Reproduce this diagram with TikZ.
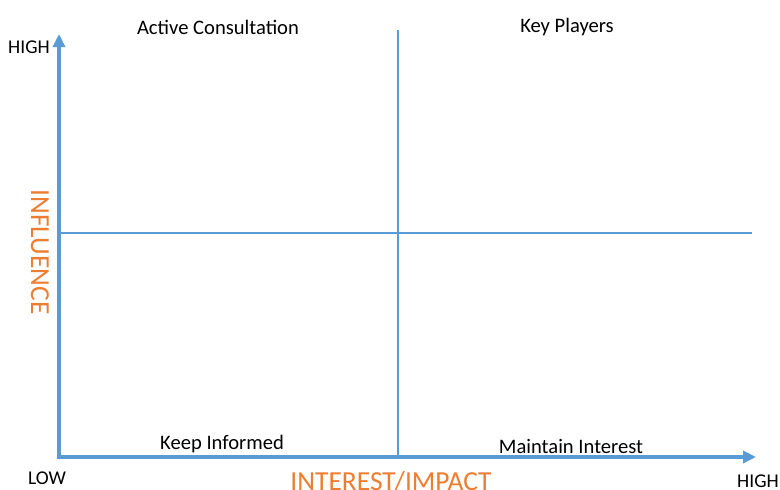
\documentclass[tikz,border=0pt]{standalone}
\usepackage{fontspec}
\setmainfont{Carlito}
\usetikzlibrary{arrows.meta}
\definecolor{axisblue}{HTML}{5B9BD5}
\definecolor{labelorange}{HTML}{ED7D31}
\begin{document}
\begin{tikzpicture}[x=1pt,y=-1pt,
  axisline/.style={draw=axisblue,line width=4pt,{Triangle[length=13pt,width=12pt]}-{Triangle[length=13pt,width=12pt]}},
  divider/.style={draw=axisblue,line width=1.6pt},
  quadlabel/.style={font=\fontsize{20.6}{24}\selectfont,text=black,inner sep=0pt},
  ticklabel/.style={font=\fontsize{19.5}{23}\selectfont,text=black,inner sep=0pt},
  axislabel/.style={font=\fontsize{27.5}{32}\selectfont,text=labelorange,inner sep=0pt}]
\useasboundingbox (0,0) rectangle (780,490);
\coordinate (o) at (59,457);
\coordinate (ytip) at (59,34);
\coordinate (xtip) at (756,457);
\coordinate (vtop) at (398,30);
\coordinate (vbot) at (398,456);
\coordinate (hleft) at (59,233);
\coordinate (hright) at (752,233);
\draw[divider] (vtop) -- (vbot);
\draw[divider] (hleft) -- (hright);
\draw[axisline] (ytip) -- (o) -- (xtip);
\node[quadlabel] (ac) at (218,27) {Active Consultation};
\node[quadlabel] (kp) at (567,27) {Key Players};
\node[quadlabel] (ki) at (222,444) {Keep Informed};
\node[quadlabel] (mi) at (571,446) {Maintain Interest};
\node[ticklabel] (yhigh) at (29,47) {HIGH};
\node[ticklabel] (low) at (47,478) {LOW};
\node[ticklabel] (xhigh) at (758,481) {HIGH};
\node[axislabel,rotate=-90] (infl) at (40,252) {INFLUENCE};
\node[axislabel,anchor=base] (inter) at (391,490) {INTEREST/IMPACT};
\end{tikzpicture}
\end{document}
